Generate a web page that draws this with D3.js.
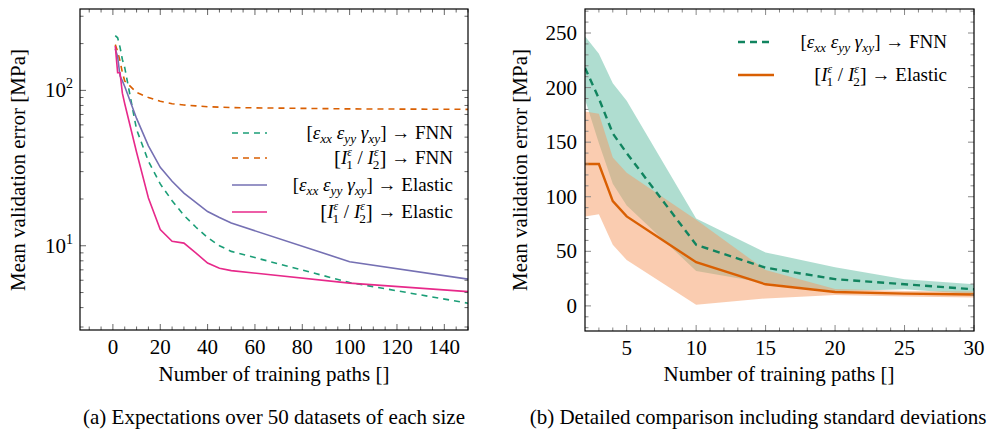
<!DOCTYPE html>
<html>
<head>
<meta charset="utf-8">
<script src="https://cdn.jsdelivr.net/npm/d3@7"></script>
<style>
  body { margin: 0; }
  text, tspan { font-family: 'Liberation Serif', 'Tinos', 'Nimbus Roman', 'Times New Roman', 'FreeSerif' !important; }
</style>
</head>
<body>
<script>
/* Data */
// (a) expectations over 50 datasets
const pathsA = [1, 2, 3, 4, 5, 10, 15, 20, 25, 30, 35, 40, 45, 50, 100, 150];
const strainFnnA = [225, 218, 190, 158, 140, 56, 35, 25, 19.5, 15.7, 13.2, 11.3, 10, 9.2, 5.8, 4.27];
const invFnnA = [197, 178, 155, 130, 115, 97, 90, 85, 82, 80.5, 79.5, 78.5, 78, 77.5, 76, 75.5];
const strainElA = [185, 165, 124, 115, 106, 66, 44, 32, 26, 21.8, 19, 16.6, 15.2, 14.0, 7.9, 6.1];
const invElA = [193, 130, 130, 96, 82, 40, 20.3, 12.7, 10.7, 10.4, 9.0, 7.74, 7.17, 6.92, 5.75, 5.07];

// (b) detailed comparison with standard deviations
const pathsB = [2, 3, 4, 5, 10, 15, 20, 25, 30];
const strainFnnB = [218, 190, 158, 140, 56, 35, 24.5, 19.8, 15.2];
const strainFnnSd = [29, 41, 46, 48, 24, 14, 11, 4.6, 4.6];
const invElB = [130, 130, 96, 82, 40, 19.8, 12.7, 11.2, 10.5];
const invElSd = [48, 46, 40, 40, 39, 13, 2.8, 2.5, 2.7];

const xTicksA = [0, 20, 40, 60, 80, 100, 120, 140];
const yTicksA = [10, 100];
const xTicksB = [5, 10, 15, 20, 25, 30];
const yTicksB = [0, 50, 100, 150, 200, 250];

const colors = { green: '#1b9e77', orange: '#d95f02', purple: '#7570b3', pink: '#e7298a' };
const fontName = 'Liberation Serif';

const W = 992, H = 431;
const svg = d3.select('body').append('svg').attr('width', W).attr('height', H)
  .attr('font-family', fontName);

// math-ish legend labels made of tspans
const strainLabel = (tail) => [
  { t: '[' }, { t: 'ε', it: 1 }, { t: 'xx', it: 1, sub: 1 },
  { t: '   ε', it: 1 }, { t: 'yy', it: 1, sub: 1 },
  { t: '   γ', it: 1 }, { t: 'xy', it: 1, sub: 1 }, { t: '] → ' + tail }
];
const invLabel = (tail) => [
  { t: '[', big: 1 }, { t: 'I', it: 1 }, { t: 'ε', it: 1, sup: 1 }, { t: '1', subBack: 1 },
  { t: ' / ' }, { t: 'I', it: 1 }, { t: 'ε', it: 1, sup: 1 }, { t: '2', subBack: 1 },
  { t: ']', big: 1 }, { t: ' → ' + tail }
];

function mathText(g, x, y, parts, size) {
  const txt = g.append('text').attr('font-family', fontName)
    .attr('font-size', size)
    .attr('x', x).attr('y', y).attr('text-anchor', 'end');
  let shift = 0;
  parts.forEach((p) => {
    const s = txt.append('tspan').text(p.t);
    if (p.it) s.attr('font-style', 'italic');
    let target = 0, fs = size;
    if (p.sub) { target = 4; fs = size * 0.7; }
    if (p.sup) { target = -8; fs = size * 0.62; }
    if (p.subBack) { target = 5; fs = size * 0.7; s.attr('dx', -size * 0.3); }
    if (p.big) { fs = size * 1.1; target = 1; }
    s.attr('font-size', fs).attr('dy', target - shift);
    shift = target;
  });
  return txt;
}

function label(g, x, y, str, anchor) {
  return g.append('text').attr('font-family', fontName).attr('font-size', 21)
    .attr('x', x).attr('y', y).attr('text-anchor', anchor || 'middle').text(str);
}

function frameTicks(g, x, y, xMajor, xMinor, yMajor, yMinor, tickColor) {
  const [x0, x1] = x.range(), [y0, y1] = y.range();
  const tk = g.append('g').attr('stroke', tickColor).attr('stroke-width', 1);
  const vt = (v, len) => {
    tk.append('line').attr('x1', x(v)).attr('x2', x(v)).attr('y1', y0).attr('y2', y0 - len);
    tk.append('line').attr('x1', x(v)).attr('x2', x(v)).attr('y1', y1).attr('y2', y1 + len);
  };
  const ht = (v, len) => {
    tk.append('line').attr('y1', y(v)).attr('y2', y(v)).attr('x1', x0).attr('x2', x0 + len);
    tk.append('line').attr('y1', y(v)).attr('y2', y(v)).attr('x1', x1).attr('x2', x1 - len);
  };
  xMajor.forEach((v) => vt(v, 6));
  xMinor.forEach((v) => vt(v, 3.5));
  yMajor.forEach((v) => ht(v, 6));
  yMinor.forEach((v) => ht(v, 3.5));
  g.append('rect').attr('x', x0).attr('y', y1).attr('width', x1 - x0).attr('height', y0 - y1)
    .attr('fill', 'none').attr('stroke', '#000').attr('stroke-width', 1.2);
}

/* ---------- (a) ---------- */
const xA = d3.scaleLinear().domain([-13.9, 150]).range([80, 468]);
const yA = d3.scaleLog().domain([2.87, 334]).range([330, 9]);
const gA = svg.append('g');
gA.append('clipPath').attr('id', 'clipA').append('rect')
  .attr('x', 80).attr('y', 9).attr('width', 388).attr('height', 321);

const lineA = (vals) => d3.line().x((d, i) => xA(pathsA[i])).y((d) => yA(d))(vals);
const seriesA = [
  { vals: strainFnnA, color: colors.green, dash: '6,5', label: strainLabel('FNN') },
  { vals: invFnnA, color: colors.orange, dash: '6,5', label: invLabel('FNN') },
  { vals: strainElA, color: colors.purple, dash: null, label: strainLabel('Elastic') },
  { vals: invElA, color: colors.pink, dash: null, label: invLabel('Elastic') },
];
const plotA = gA.append('g').attr('clip-path', 'url(#clipA)');
seriesA.forEach((s) => {
  plotA.append('path').attr('d', lineA(s.vals)).attr('fill', 'none')
    .attr('stroke', s.color).attr('stroke-width', 1.6)
    .attr('stroke-dasharray', s.dash);
});

const xMinorA = d3.range(-10, 151, 5).filter((v) => v % 20 !== 0);
const yMinorA = [3, 4, 5, 6, 7, 8, 9, 20, 30, 40, 50, 60, 70, 80, 90, 200, 300];
frameTicks(gA, xA, yA, xTicksA, xMinorA, yTicksA, yMinorA, '#666');

xTicksA.forEach((d) => label(gA, xA(d), 354, d));
yTicksA.forEach((v) => {
  const t = label(gA, 73, yA(v) + 7, '', 'end');
  t.append('tspan').text('10');
  t.append('tspan').text(Math.round(Math.log10(v))).attr('font-size', 14).attr('dy', -9);
});

// legend (a)
seriesA.forEach((s, i) => {
  const cy = [133, 158, 185, 212][i];
  gA.append('line').attr('x1', 232).attr('x2', 267).attr('y1', cy).attr('y2', cy)
    .attr('stroke', s.color).attr('stroke-width', 1.6).attr('stroke-dasharray', s.dash);
  mathText(gA, 453, cy + 6, s.label, 19);
});

label(gA, 274, 381, 'Number of training paths []');
label(gA, 0, 0, 'Mean validation error [MPa]').attr('transform', 'translate(25,170) rotate(-90)');
label(gA, 274, 424, '(a) Expectations over 50 datasets of each size');

/* ---------- (b) ---------- */
const xB = d3.scaleLinear().domain([2, 30]).range([585, 974]);
const yB = d3.scaleLinear().domain([-23, 272]).range([331, 9]);
const gB = svg.append('g');
gB.append('clipPath').attr('id', 'clipB').append('rect')
  .attr('x', 585).attr('y', 9).attr('width', 389).attr('height', 322);
const plotB = gB.append('g').attr('clip-path', 'url(#clipB)');

const band = (mean, sd) => d3.area()
  .x((d, i) => xB(pathsB[i]))
  .y0((d, i) => yB(mean[i] - sd[i]))
  .y1((d, i) => yB(mean[i] + sd[i]))(mean);
const lineB = (vals) => d3.line().x((d, i) => xB(pathsB[i])).y((d) => yB(d))(vals);

plotB.append('path').attr('d', band(strainFnnB, strainFnnSd))
  .attr('fill', colors.green).attr('fill-opacity', 0.35);
plotB.append('path').attr('d', band(invElB, invElSd))
  .attr('fill', '#f59961').attr('fill-opacity', 0.5);
plotB.append('path').attr('d', lineB(strainFnnB)).attr('fill', 'none')
  .attr('stroke', '#11845f').attr('stroke-width', 2.4).attr('stroke-dasharray', '7,5');
plotB.append('path').attr('d', lineB(invElB)).attr('fill', 'none')
  .attr('stroke', colors.orange).attr('stroke-width', 2.4);

const xMinorB = d3.range(3, 30).filter((v) => v % 5 !== 0);
const yMinorB = d3.range(-20, 271, 10).filter((v) => v % 50 !== 0);
frameTicks(gB, xB, yB, xTicksB, xMinorB, yTicksB, yMinorB, '#888');

xTicksB.forEach((d) => label(gB, xB(d), 355, d));
yTicksB.forEach((d) => label(gB, 577, yB(d) + 7, d, 'end'));

// legend (b)
const legendB = [
  { color: '#11845f', dash: '7,5', label: strainLabel('FNN'), cy: 42 },
  { color: colors.orange, dash: null, label: invLabel('Elastic'), cy: 75 },
];
legendB.forEach((s) => {
  gB.append('line').attr('x1', 738).attr('x2', 774).attr('y1', s.cy).attr('y2', s.cy)
    .attr('stroke', s.color).attr('stroke-width', 2.4).attr('stroke-dasharray', s.dash);
  mathText(gB, 947, s.cy + 6, s.label, 19);
});

label(gB, 779, 381, 'Number of training paths []');
label(gB, 0, 0, 'Mean validation error [MPa]').attr('transform', 'translate(527,170) rotate(-90)');
label(gB, 758, 424, '(b) Detailed comparison including standard deviations');
</script>
</body>
</html>
